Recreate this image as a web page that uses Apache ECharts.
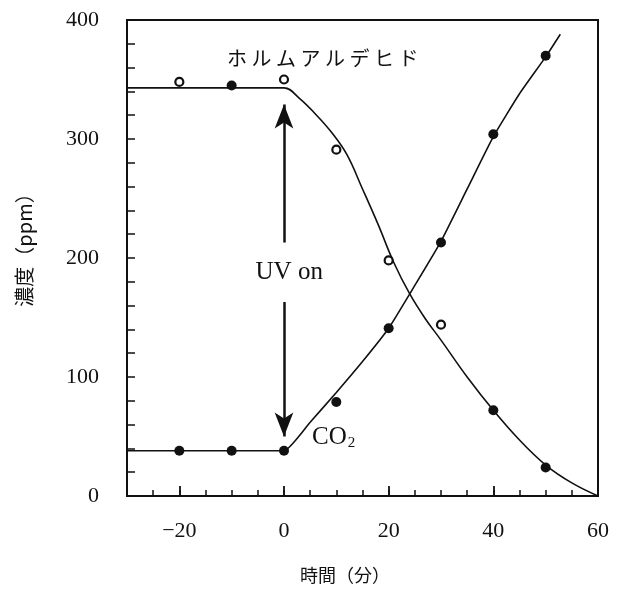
<!DOCTYPE html>
<html>
<head>
<meta charset="utf-8">
<script src="https://cdn.jsdelivr.net/npm/echarts@6/dist/echarts.min.js"></script>
<style>html,body{margin:0;padding:0;background:#fff}#main{width:618px;height:589px}</style>
</head>
<body>
<div id="main"></div>
<script>
// 測定点（分, ppm）
var sampleTimes = [-20, -10, 0, 10, 20, 30, 40, 50];
var hchoValues = [348, 345, 350, 291, 198, 144, 72, 24];
var hchoOpen = [true, false, true, true, true, true, false, false];
var co2Values = [38, 38, 38, 79, 141, 213, 304, 370];

// 曲線（手書きのなめらかな線）
var hchoCurveTimes = [-30, -20, -10, -2, 0, 3, 6, 9, 12, 15, 18, 21, 24, 27, 30, 35, 40, 45, 50, 55, 60];
var hchoCurveValues = [343, 343, 343, 343, 343, 334, 321, 306, 287, 258, 228, 196, 170, 149, 131, 100, 72, 47, 26, 11, 0];
var co2CurveTimes = [-30, -20, -10, 0, 5, 10, 15, 20, 25, 30, 35, 40, 45, 50, 52.8];
var co2CurveValues = [38, 38, 38, 38, 62, 87, 113, 141, 177, 214, 258, 302, 338, 369, 388];

var xMajorTicks = [-20, 0, 20, 40];
var yTickLabels = [0, 100, 200, 300, 400];

var myChart = echarts.init(document.getElementById('main'));

var ink = '#111';
var numFont = 'Liberation Serif';
var jpFont = 'Noto Sans CJK JP';

function pairs(xs, ys) {
  return xs.map(function (x, i) { return [x, ys[i]]; });
}

var hchoPoints = sampleTimes.map(function (t, i) {
  var open = hchoOpen[i];
  return {
    value: [t, hchoValues[i]],
    symbolSize: open ? 8 : 10,
    itemStyle: open ? { color: '#fff', borderColor: ink, borderWidth: 2.2, opacity: 1 } : { color: ink, opacity: 1 }
  };
});

var option = {
  backgroundColor: '#fff',
  animation: false,
  grid: {
    left: 127, right: 20, top: 20, bottom: 92,
    show: true, borderColor: ink, borderWidth: 2
  },
  xAxis: [{
    type: 'value', min: -30, max: 60, interval: 5,
    name: '時間（分）', nameLocation: 'middle', nameGap: 70,
    nameTextStyle: { fontFamily: jpFont, fontSize: 18, color: ink, padding: [0, 35, 0, 0] },
    axisLine: { show: true, onZero: false, lineStyle: { color: ink, width: 2 } },
    axisTick: { show: true, inside: true, length: 6, lineStyle: { color: ink, width: 1.5 } },
    axisLabel: {
      margin: 24, fontFamily: numFont, fontSize: 22, color: ink,
      formatter: function (v) {
        if (v % 20 !== 0) return '';
        return v < 0 ? '\u2212' + Math.abs(v) : String(v);
      }
    },
    splitLine: { show: false }
  }, {
    type: 'value', min: -30, max: 60, position: 'bottom',
    axisLine: { show: false, onZero: false },
    axisTick: { show: true, inside: true, length: 10, customValues: xMajorTicks, lineStyle: { color: ink, width: 1.8 } },
    axisLabel: { show: false },
    splitLine: { show: false }
  }],
  yAxis: {
    type: 'value', min: 0, max: 400, interval: 20,
    name: '濃度（ppm）', nameLocation: 'middle', nameGap: 93,
    nameTextStyle: { fontFamily: jpFont, fontSize: 20, color: ink, padding: [0, 0, 0, 26] },
    axisLine: { show: true, onZero: false, lineStyle: { color: ink, width: 2 } },
    axisTick: { show: true, inside: true, length: 8, lineStyle: { color: ink, width: 1.5 } },
    axisLabel: {
      margin: 28, fontFamily: numFont, fontSize: 22, color: ink,
      formatter: function (v) { return yTickLabels.indexOf(v) >= 0 ? String(v) : ''; }
    },
    splitLine: { show: false }
  },
  series: [{
    name: 'ホルムアルデヒド曲線',
    type: 'line',
    data: pairs(hchoCurveTimes, hchoCurveValues),
    showSymbol: false, smooth: 0.4,
    lineStyle: { color: ink, width: 1.6 },
    markLine: {
      silent: true,
      symbol: ['none', 'arrow'], symbolSize: [14, 24],
      lineStyle: { color: ink, width: 2.5, type: 'solid' },
      label: { show: false },
      data: [
        [{ coord: [0, 213] }, { coord: [0, 329] }],
        [{ coord: [0, 163] }, { coord: [0, 50] }]
      ]
    }
  }, {
    name: 'CO2曲線',
    type: 'line',
    data: pairs(co2CurveTimes, co2CurveValues),
    showSymbol: false, smooth: 0.15,
    lineStyle: { color: ink, width: 1.6 }
  }, {
    name: 'ホルムアルデヒド',
    type: 'scatter',
    data: hchoPoints,
    z: 5
  }, {
    name: 'CO2',
    type: 'scatter',
    data: pairs(sampleTimes, co2Values),
    symbolSize: 10,
    itemStyle: { color: ink, opacity: 1 },
    z: 5
  }, {
    name: 'labels',
    type: 'scatter',
    symbolSize: 0,
    silent: true,
    itemStyle: { opacity: 1 },
    label: {
      show: true, position: 'inside', color: ink, opacity: 1,
      formatter: '{b}'
    },
    data: [
      { value: [7.4, 368], name: 'ホ ル ム ア ル デ ヒ ド',
        label: { fontFamily: jpFont, fontSize: 20 } },
      { value: [1, 188], name: 'UV on',
        label: { fontFamily: numFont, fontSize: 25 } },
      { value: [9.5, 49], name: 'co2',
        label: {
          formatter: '{a|CO}{b|2}',
          rich: {
            a: { fontFamily: numFont, fontSize: 25, color: ink },
            b: { fontFamily: numFont, fontSize: 15, color: ink, padding: [10, 0, 0, 1] }
          }
        } }
    ]
  }]
};

myChart.setOption(option);
</script>
</body>
</html>
